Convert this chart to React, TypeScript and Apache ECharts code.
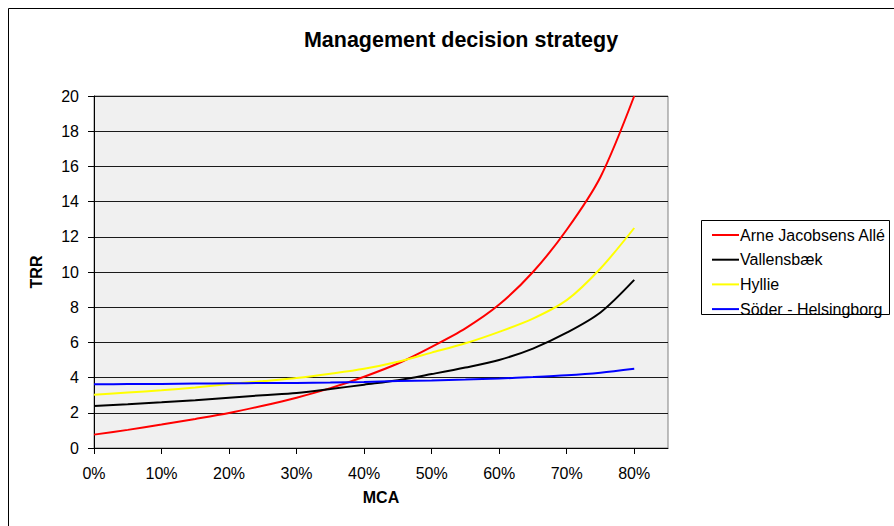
import React, { useEffect, useRef } from "react";
import * as echarts from "echarts";

const mca = [0, 0.05, 0.1, 0.15, 0.2, 0.25, 0.3, 0.35, 0.4, 0.45, 0.5, 0.55, 0.6, 0.65, 0.7, 0.75, 0.8];
const arneJacobsensAlle = [0.76, 1.03, 1.33, 1.65, 1.99, 2.4, 2.86, 3.4, 4.05, 4.8, 5.75, 6.8, 8.15, 10.0, 12.4, 15.4, 20.0];
const vallensbaek = [2.39, 2.49, 2.6, 2.72, 2.86, 3.0, 3.13, 3.35, 3.6, 3.85, 4.2, 4.57, 5.0, 5.65, 6.55, 7.7, 9.55];
const hyllie = [3.03, 3.15, 3.28, 3.44, 3.63, 3.8, 3.98, 4.22, 4.5, 4.9, 5.42, 5.95, 6.6, 7.35, 8.4, 10.2, 12.5];
const soderHelsingborg = [3.62, 3.63, 3.64, 3.66, 3.68, 3.69, 3.7, 3.72, 3.75, 3.8, 3.84, 3.89, 3.95, 4.03, 4.13, 4.28, 4.5];
const seriesNames = ["Arne Jacobsens Allé", "Vallensbæk", "Hyllie", "Söder - Helsingborg"];
const seriesColors = ["#ff0000", "#000000", "#ffff00", "#0000ff"];
const xTickValues = [0, 0.1, 0.2, 0.3, 0.4, 0.5, 0.6, 0.7, 0.8];

const FONT = "'Liberation Sans', Arial, sans-serif";

export default function App() {
  const ref = useRef<HTMLDivElement>(null);
  useEffect(() => {
    if (!ref.current) return;
    const chart = echarts.init(ref.current, null, { renderer: "svg" });
    const all = [arneJacobsensAlle, vallensbaek, hyllie, soderHelsingborg];
    chart.setOption({
      animation: false,
      backgroundColor: "#ffffff",
      textStyle: { fontFamily: FONT },
      graphic: [
        {
          type: "rect",
          shape: { x: 8.5, y: 8.5, width: 1000, height: 1000 },
          style: { fill: "none", stroke: "#000", lineWidth: 1 },
          silent: true,
        },
        {
          type: "rect",
          shape: { x: 701.5, y: 220.5, width: 188, height: 94 },
          style: { fill: "#fff", stroke: "#000", lineWidth: 1 },
          silent: true,
          z: -1,
        },
        {
          type: "text",
          x: 461,
          y: 40,
          style: {
            text: "Management decision strategy",
            fontFamily: FONT,
            fontWeight: "bold",
            fontSize: 21.5,
            fill: "#000",
            textAlign: "center",
            textVerticalAlign: "middle",
          },
        },
      ],
      legend: {
        orient: "vertical",
        left: 701,
        top: 227,
        padding: [0, 0, 0, 11],
        itemWidth: 27,
        itemHeight: 2,
        itemGap: 8.7,
        icon: "rect",
        borderWidth: 0,
        textStyle: { fontFamily: FONT, fontSize: 16, color: "#000", padding: [0, 0, 0, -4] },
        data: seriesNames,
        z: 5,
      },
      grid: {
        left: 94,
        top: 96,
        right: 226,
        bottom: 78,
        show: true,
        backgroundColor: "#f0f0f0",
        borderColor: "#808080",
        borderWidth: 1,
        containLabel: false,
      },
      xAxis: {
        type: "value",
        min: 0,
        max: 0.85,
        interval: 0.1,
        name: "MCA",
        nameLocation: "middle",
        nameGap: 41,
        nameTextStyle: { fontFamily: FONT, fontWeight: "bold", fontSize: 16, color: "#000" },
        axisLine: { show: true, lineStyle: { color: "#000", width: 1 } },
        axisTick: { show: true, length: 6, lineStyle: { color: "#000" }, customValues: xTickValues },
        axisLabel: {
          margin: 17,
          fontSize: 16,
          color: "#000",
          fontFamily: FONT,
          customValues: xTickValues,
          formatter: (v: number) => Math.round(v * 100) + "%",
        },
        splitLine: { show: false },
      },
      yAxis: {
        type: "value",
        min: 0,
        max: 20,
        interval: 2,
        name: "TRR",
        nameLocation: "middle",
        nameGap: 50,
        nameTextStyle: { fontFamily: FONT, fontWeight: "bold", fontSize: 16, color: "#000" },
        axisLine: { show: true, lineStyle: { color: "#000", width: 1 } },
        axisTick: { show: true, length: 6, lineStyle: { color: "#000" } },
        axisLabel: { margin: 15, fontSize: 16, color: "#000", fontFamily: FONT },
        splitLine: { show: true, lineStyle: { color: "#1a1a1a", width: 1 } },
      },
      series: all.map((vals, i) => ({
        name: seriesNames[i],
        type: "line",
        smooth: 0.3,
        symbol: "none",
        showSymbol: false,
        color: seriesColors[i],
        lineStyle: { color: seriesColors[i], width: 2 },
        data: vals.map((v, j) => [mca[j], v]),
      })),
    });
    return () => chart.dispose();
  }, []);
  return (
    <div
      ref={ref}
      style={{ position: "fixed", left: 0, top: 0, width: 894, height: 526 }}
    />
  );
}
